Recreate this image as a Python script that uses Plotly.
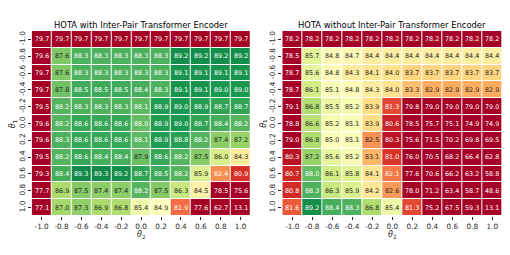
import plotly.graph_objects as go
import numpy as np

theta = [-1.0, -0.8, -0.6, -0.4, -0.2, 0.0, 0.2, 0.4, 0.6, 0.8, 1.0]
tick_labels = ["-1.0", "-0.8", "-0.6", "-0.4", "-0.2", "0.0", "0.2", "0.4", "0.6", "0.8", "1.0"]

title_with = "HOTA with Inter-Pair Transformer Encoder"
title_without = "HOTA without Inter-Pair Transformer Encoder"

# rows = theta_1 (-1.0 .. 1.0), cols = theta_2 (-1.0 .. 1.0)
hota_with = [
    [79.7, 79.7, 79.7, 79.7, 79.7, 79.7, 79.7, 79.7, 79.7, 79.7, 79.7],
    [79.6, 87.6, 88.3, 88.3, 88.3, 88.3, 88.3, 89.2, 89.2, 89.2, 89.2],
    [79.7, 87.6, 88.3, 88.3, 88.3, 88.3, 88.3, 89.1, 89.1, 89.1, 89.1],
    [79.7, 87.8, 88.5, 88.5, 88.5, 88.4, 88.3, 89.1, 89.1, 89.0, 89.0],
    [79.5, 88.2, 88.3, 88.3, 88.3, 88.1, 88.9, 89.0, 88.9, 88.7, 88.7],
    [79.6, 88.2, 88.6, 88.6, 88.6, 88.0, 88.9, 89.0, 88.7, 88.4, 88.2],
    [79.6, 88.3, 88.6, 88.6, 88.6, 88.1, 88.9, 88.8, 88.2, 87.4, 87.2],
    [79.5, 88.2, 88.6, 88.4, 88.4, 87.9, 88.6, 88.2, 87.5, 86.0, 84.3],
    [79.3, 88.4, 89.3, 89.3, 89.2, 88.7, 88.5, 88.2, 85.9, 82.4, 80.9],
    [77.7, 86.9, 87.5, 87.4, 87.4, 88.2, 87.5, 86.3, 84.5, 78.5, 75.6],
    [77.1, 87.0, 87.3, 86.9, 86.8, 85.4, 84.9, 81.9, 77.6, 62.7, 13.1],
]

hota_without = [
    [78.2, 78.2, 78.2, 78.2, 78.2, 78.2, 78.2, 78.2, 78.2, 78.2, 78.2],
    [78.5, 85.7, 84.8, 84.7, 84.4, 84.4, 84.4, 84.4, 84.4, 84.4, 84.4],
    [78.7, 85.6, 84.8, 84.3, 84.1, 84.0, 83.7, 83.7, 83.7, 83.7, 83.7],
    [78.7, 86.1, 85.1, 84.8, 84.3, 84.0, 83.3, 82.9, 82.9, 82.9, 82.9],
    [79.1, 86.8, 85.5, 85.2, 83.9, 81.3, 79.8, 79.0, 79.0, 79.0, 79.0],
    [78.8, 86.6, 85.2, 85.1, 83.9, 80.6, 78.5, 75.7, 75.1, 74.9, 74.9],
    [79.0, 86.8, 85.0, 85.1, 82.5, 80.3, 75.6, 71.5, 70.2, 69.8, 69.5],
    [80.3, 87.2, 85.6, 85.2, 83.1, 81.0, 76.0, 70.5, 68.2, 66.4, 62.8],
    [80.7, 88.0, 86.1, 85.8, 84.1, 82.1, 77.6, 70.6, 66.2, 63.2, 58.8],
    [80.8, 88.3, 86.3, 85.9, 84.2, 82.6, 78.0, 71.2, 63.4, 58.7, 48.6],
    [81.6, 89.2, 88.4, 88.3, 86.8, 85.4, 81.3, 75.2, 67.5, 59.3, 13.1],
]

ZMIN, ZMAX = 79.9, 90.0
RDYLGN = ["#a50026", "#d73027", "#f46d43", "#fdae61", "#fee08b", "#ffffbf",
          "#d9ef8b", "#a6d96a", "#66bd63", "#1a9850", "#006837"]
colorscale = [[i / 10, c] for i, c in enumerate(RDYLGN)]
anchors = np.array([[int(c[1:3], 16), int(c[3:5], 16), int(c[5:7], 16)] for c in RDYLGN]) / 255.0


def color_of(v):
    t = min(max((v - ZMIN) / (ZMAX - ZMIN), 0.0), 1.0)
    pos = t * 10
    i = min(int(pos), 9)
    f = pos - i
    return anchors[i] * (1 - f) + anchors[i + 1] * f


def text_color(v):
    rgb = color_of(v)
    rgb = np.where(rgb <= 0.03928, rgb / 12.92, ((rgb + 0.055) / 1.055) ** 2.4)
    lum = float(rgb.dot([0.2126, 0.7152, 0.0722]))
    return "#262626" if lum > 0.408 else "white"


W, H = 510, 255
FONT = "DejaVu Sans"
panels = [
    (hota_with, title_with, (31.7, 250.6), "x", "y"),
    (hota_without, title_without, (282.3, 502.3), "x2", "y2"),
]
y_px = (31.0, 216.0)
ydom = [1 - y_px[1] / H, 1 - y_px[0] / H]

fig = go.Figure()
annotations = []
layout_axes = {}
for k, (data, title, xpx, xa, ya) in enumerate(panels):
    fig.add_trace(go.Heatmap(
        z=data, x=theta, y=theta, xaxis=xa, yaxis=ya,
        colorscale=colorscale, zmin=ZMIN, zmax=ZMAX, showscale=False,
        xgap=1, ygap=1, hoverinfo="skip",
    ))
    sfx = "" if k == 0 else "2"
    xdom = [xpx[0] / W, xpx[1] / W]
    axis_common = dict(
        tickvals=theta, ticktext=tick_labels, ticks="outside", ticklen=3,
        tickwidth=0.8, tickcolor="#262626", showgrid=False, zeroline=False,
        showline=False, tickfont=dict(family=FONT, size=7.3, color="#262626"),
    )
    layout_axes["xaxis" + sfx] = dict(domain=xdom, range=[-1.1, 1.1], anchor="y" + sfx,
                                      **axis_common)
    layout_axes["yaxis" + sfx] = dict(domain=ydom, range=[1.1, -1.1], anchor="x" + sfx,
                                      tickangle=-90, **axis_common)
    for i, row in enumerate(data):
        for j, v in enumerate(row):
            annotations.append(dict(
                x=theta[j], y=theta[i], xref=xa, yref=ya, text=f"{v:.1f}",
                showarrow=False, font=dict(family=FONT, size=6.4, color=text_color(v)),
            ))
    cx = (xpx[0] + xpx[1]) / 2
    annotations.append(dict(x=cx / W, y=1 - 25 / H, xref="paper", yref="paper", text=title,
                            showarrow=False, xanchor="center", yanchor="middle",
                            font=dict(family=FONT, size=8.4, color="black")))
    annotations.append(dict(x=cx / W, y=1 - 235 / H, xref="paper", yref="paper",
                            text="<i>θ</i><sub>2</sub>", showarrow=False,
                            xanchor="center", yanchor="middle",
                            font=dict(family=FONT, size=8, color="#262626")))
    annotations.append(dict(x=(xpx[0] - 19) / W, y=(ydom[0] + ydom[1]) / 2, xref="paper",
                            yref="paper", text="<i>θ</i><sub>1</sub>", showarrow=False,
                            textangle=-90, xanchor="center", yanchor="middle",
                            font=dict(family=FONT, size=8, color="#262626")))

fig.update_layout(
    width=W, height=H, autosize=False,
    margin=dict(l=0, r=0, t=0, b=0),
    paper_bgcolor="white", plot_bgcolor="white",
    annotations=annotations, showlegend=False, hovermode=False,
    **layout_axes,
)
fig.write_html("out.html", config={"displayModeBar": False},
               post_script="document.body.style.margin='0';")
